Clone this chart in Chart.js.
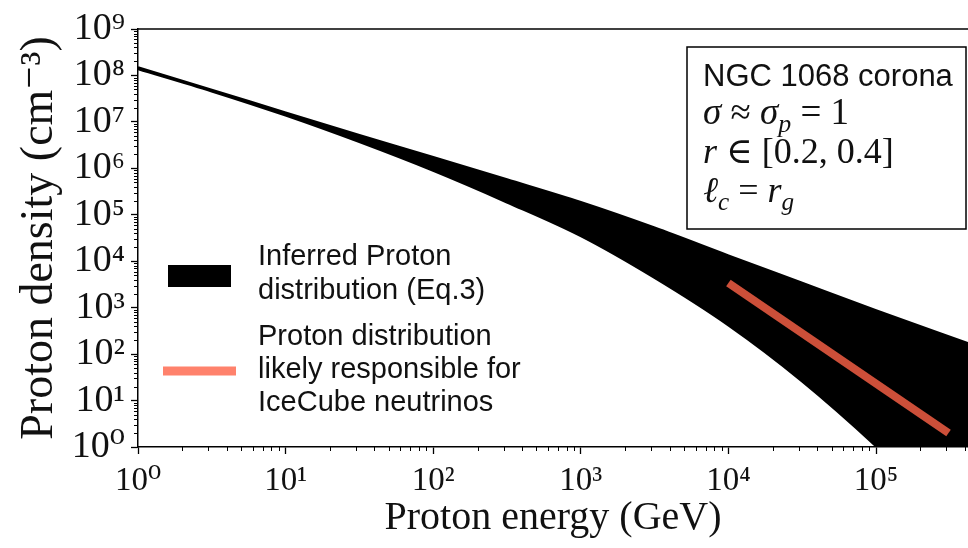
<!DOCTYPE html>
<html>
<head>
<meta charset="utf-8">
<script src="https://cdn.jsdelivr.net/npm/chart.js@4.4.1/dist/chart.umd.min.js"></script>
<style>
  html, body { margin: 0; padding: 0; background: #fff; }
  #wrap { width: 968px; height: 548px; position: relative; }
</style>
</head>
<body>
<div id="wrap"><canvas id="chart"></canvas></div>
<script>
const energyGeV = [1, 3.16, 10, 31.6, 100, 316, 1000, 3160, 10000, 31600, 100000, 420000];
// upper / lower edge of the inferred proton distribution (cm^-3)
const densityUpper = [1.48e8, 4.9e7, 1.58e7, 5.2e6, 1.74e6, 5.75e5, 1.86e5, 5.25e4, 1.32e4, 3.4e3, 870, 170];
const densityLower = [1.38e8, 4.57e7, 1.38e7, 3.7e6, 8.9e5, 1.86e5, 3.5e4, 4.4e3, 417, 26, 1.05, 0.0126];
// IceCube-responsible proton distribution
const iceCubeEnergy = [1.0e4, 3.1e5];
const iceCubeDensity = [3400, 2];

const xTicks = [1, 10, 100, 1e3, 1e4, 1e5];
const yTicks = [1, 10, 100, 1e3, 1e4, 1e5, 1e6, 1e7, 1e8, 1e9];
const xRange = [1, 4.2e5];
const yRange = [1, 1e9];

const legendBand = ["Inferred Proton", "distribution (Eq.3)"];
const legendLine = ["Proton distribution", "likely responsible for", "IceCube neutrinos"];
const boxTitle = "NGC 1068 corona";

const SERIF = "'Liberation Serif', 'DejaVu Serif', serif";
const SANS = "'Liberation Sans', 'DejaVu Sans', sans-serif";
const RED = "rgba(255, 99, 71, 0.8)";

const SUP = "⁰¹²³⁴⁵⁶⁷⁸⁹";
function powLabel(v) {
  const e = Math.round(Math.log10(v));
  return "10" + String(e).split("").map((d) => SUP[+d]).join("");
}

function pts(xs, ys) {
  return xs.map((x, i) => ({ x: x, y: ys[i] }));
}

// draw text made of runs (italic, subscript)
function drawRuns(ctx, x, y, runs, size) {
  runs.forEach((r) => {
    const s = r.sub ? size * 0.7 : size;
    ctx.font = (r.it ? "italic " : "") + s + "px " + SERIF;
    ctx.fillText(r.t, x, y + (r.sub ? size * 0.22 : 0));
    x += ctx.measureText(r.t).width;
  });
}

const decorPlugin = {
  id: "decor",
  afterDraw(chart) {
    const ctx = chart.ctx;
    const area = chart.chartArea;
    const sx = chart.scales.x;
    const sy = chart.scales.y;
    ctx.save();
    ctx.strokeStyle = "#000";

    // top spine
    ctx.lineWidth = 1.5;
    ctx.beginPath();
    ctx.moveTo(area.left, area.top);
    ctx.lineTo(area.right, area.top);
    ctx.stroke();

    // minor ticks
    ctx.lineWidth = 1;
    ctx.beginPath();
    for (let n = 0; n < 6; n++) {
      for (let k = 2; k < 10; k++) {
        const v = k * Math.pow(10, n);
        if (v > sx.max) continue;
        const px = Math.round(sx.getPixelForValue(v)) + 0.5;
        ctx.moveTo(px, area.bottom);
        ctx.lineTo(px, area.bottom + 4);
      }
    }
    for (let n = 0; n < 9; n++) {
      for (let k = 2; k < 10; k++) {
        const py = Math.round(sy.getPixelForValue(k * Math.pow(10, n))) + 0.5;
        ctx.moveTo(area.left - 4, py);
        ctx.lineTo(area.left, py);
      }
    }
    ctx.stroke();

    // legend
    ctx.fillStyle = "#000";
    ctx.fillRect(168, 265, 63, 22);
    ctx.strokeStyle = RED;
    ctx.lineWidth = 9;
    ctx.beginPath();
    ctx.moveTo(163, 371);
    ctx.lineTo(236, 371);
    ctx.stroke();

    ctx.fillStyle = "#111";
    ctx.font = "29px " + SANS;
    ctx.textBaseline = "alphabetic";
    ctx.textAlign = "left";
    legendBand.forEach((t, i) => ctx.fillText(t, 258, 265 + i * 34));
    legendLine.forEach((t, i) => ctx.fillText(t, 258, 345 + i * 33));

    // parameter box
    ctx.fillStyle = "#fff";
    ctx.fillRect(687, 47, 279, 182);
    ctx.strokeStyle = "#000";
    ctx.lineWidth = 1.5;
    ctx.strokeRect(687, 47, 279, 182);
    ctx.fillStyle = "#111";
    ctx.font = "31px " + SANS;
    ctx.fillText(boxTitle, 703, 86);
    drawRuns(ctx, 703, 124, [
      { t: "σ", it: true }, { t: " ≈ " }, { t: "σ", it: true }, { t: "p", it: true, sub: true }, { t: " = 1" }
    ], 37);
    drawRuns(ctx, 703, 163, [
      { t: "r", it: true }, { t: " ∈ [0.2, 0.4]" }
    ], 36);
    drawRuns(ctx, 703, 202, [
      { t: "ℓ", it: true }, { t: "c", it: true, sub: true }, { t: " = " }, { t: "r", it: true }, { t: "g", it: true, sub: true }
    ], 36);
    ctx.restore();
  },
};

new Chart(document.getElementById("chart"), {
  type: "line",
  data: {
    datasets: [
      {
        label: "Proton distribution likely responsible for IceCube neutrinos",
        data: pts(iceCubeEnergy, iceCubeDensity),
        borderColor: RED,
        borderWidth: 8,
        borderCapStyle: "butt",
        pointRadius: 0,
        fill: false,
        order: -1,
      },
      {
        label: "Inferred Proton distribution (Eq.3)",
        data: pts(energyGeV, densityUpper),
        borderColor: "#000",
        backgroundColor: "#000",
        borderWidth: 2.5,
        pointRadius: 0,
        cubicInterpolationMode: "monotone",
        fill: "+1",
      },
      {
        label: "lower edge",
        data: pts(energyGeV, densityLower),
        borderColor: "#000",
        borderWidth: 2.5,
        pointRadius: 0,
        cubicInterpolationMode: "monotone",
        fill: false,
      },
    ],
  },
  options: {
    responsive: true,
    maintainAspectRatio: false,
    animation: false,
    layout: { padding: { top: 29, right: 0, bottom: 0, left: 0 } },
    plugins: { legend: { display: false }, tooltip: { enabled: false } },
    scales: {
      x: {
        type: "logarithmic",
        min: xRange[0],
        max: xRange[1],
        afterBuildTicks: (s) => { s.ticks = xTicks.map((v) => ({ value: v })); },
        afterFit: (s) => { s.height = 101; },
        ticks: {
          autoSkip: false,
          maxRotation: 0,
          padding: 8,
          color: "#111",
          font: { family: SERIF, size: 33 },
          callback: (v) => powLabel(v),
        },
        grid: { drawOnChartArea: false, tickLength: 7, tickWidth: 1.3, tickColor: "#000" },
        border: { display: true, color: "#000", width: 1.5 },
        title: {
          display: true,
          text: "Proton energy (GeV)",
          color: "#111",
          font: { family: SERIF, size: 40 },
          padding: { top: 0, bottom: 6 },
        },
      },
      y: {
        type: "logarithmic",
        min: yRange[0],
        max: yRange[1],
        afterBuildTicks: (s) => { s.ticks = yTicks.map((v) => ({ value: v })); },
        afterFit: (s) => { s.width = 138; },
        ticks: {
          autoSkip: false,
          padding: 6,
          color: "#111",
          font: { family: SERIF, size: 38 },
          callback: (v) => powLabel(v),
        },
        grid: { drawOnChartArea: false, tickLength: 7, tickWidth: 1.3, tickColor: "#000" },
        border: { display: true, color: "#000", width: 1.5 },
        title: {
          display: true,
          text: "Proton density (cm⁻³)",
          color: "#111",
          font: { family: SERIF, size: 46 },
          padding: { top: 12, bottom: 0 },
        },
      },
    },
  },
  plugins: [decorPlugin],
});
</script>
</body>
</html>
